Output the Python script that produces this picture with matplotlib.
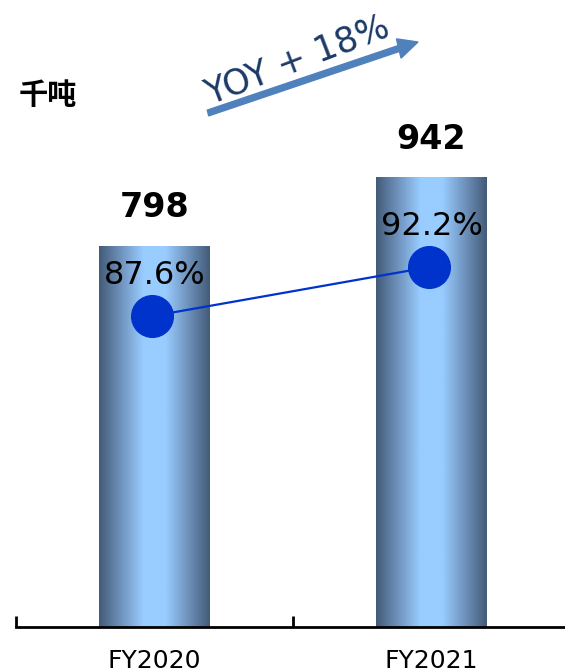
import matplotlib
matplotlib.use("Agg")
import matplotlib.pyplot as plt
import numpy as np
from matplotlib.colors import LinearSegmentedColormap
from matplotlib.patches import Rectangle, FancyArrow

categories = ["FY2020", "FY2021"]
volumes = [798, 942]
rates = [87.6, 92.2]
rate_labels = ["87.6%", "92.2%"]
unit_label = "千吨"
yoy_label = "YOY + 18%"

W, H = 565, 672
fig = plt.figure(figsize=(W / 100, H / 100), dpi=100)
ax = fig.add_axes([16 / W, 45 / H, (570 - 16) / W, 627 / H])
ax.set_xlim(-0.5, 1.5)
ax.set_ylim(0, 1313)

cmap = LinearSegmentedColormap.from_list(
    "bar", ["#435b78", "#6f93bd", "#99ccff", "#99ccff", "#6f93bd", "#435b78"])
grad = np.linspace(0, 1, 256).reshape(1, -1)
xs = np.arange(len(categories))
bw = 0.4
for x, v in zip(xs, volumes):
    rect = Rectangle((x - bw / 2, 0), bw, v, facecolor="none", edgecolor="none")
    ax.add_patch(rect)
    im = ax.imshow(grad, extent=[x - bw / 2, x + bw / 2, 0, v], aspect="auto",
                   cmap=cmap, zorder=2)
    im.set_clip_path(rect)
    ax.text(x, v + 45, str(v), ha="center", va="bottom", fontsize=24,
            fontweight="bold", color="black")

for s in ["top", "right", "left"]:
    ax.spines[s].set_visible(False)
ax.spines["bottom"].set_linewidth(2)
ax.set_yticks([])
ax.set_xticks([-0.5, 0.5, 1.5])
ax.set_xticklabels([])
ax.tick_params(axis="x", which="major", direction="in", length=8, width=2)
ax.set_xticks(xs, minor=True)
ax.set_xticklabels(categories, minor=True, fontsize=18)
ax.tick_params(axis="x", which="minor", length=0, pad=16)

ax2 = ax.twinx()
ax2.set_ylim(58.4, 117.3)
ax2.plot(xs - 0.01, rates, color="#0033cc", lw=1.6, marker="o", ms=30,
         markerfacecolor="#0033cc", markeredgecolor="#0033cc", zorder=5)
for x, r, lab in zip(xs, rates, rate_labels):
    ax2.text(x, r + 2.4, lab, ha="center", va="bottom", fontsize=23, color="black")
ax2.axis("off")

fig.text(48 / W, 1 - 95 / H, unit_label, ha="center", va="center", fontsize=21,
         fontweight="bold", family=["Noto Sans CJK SC", "DejaVu Sans"])

arrow = FancyArrow(208 / W, 1 - 113 / H, (418 - 208) / W, -(42 - 113) / H,
                   width=6 / H, head_width=20 / H, head_length=20 / W,
                   length_includes_head=True, transform=fig.transFigure,
                   color="#4f81bd", figure=fig)
fig.patches.append(arrow)
fig.text(297 / W, 1 - 60 / H, yoy_label, ha="center", va="center", fontsize=25,
         color="#1b3a66", rotation=21)

fig.savefig("out.png", dpi=100)
